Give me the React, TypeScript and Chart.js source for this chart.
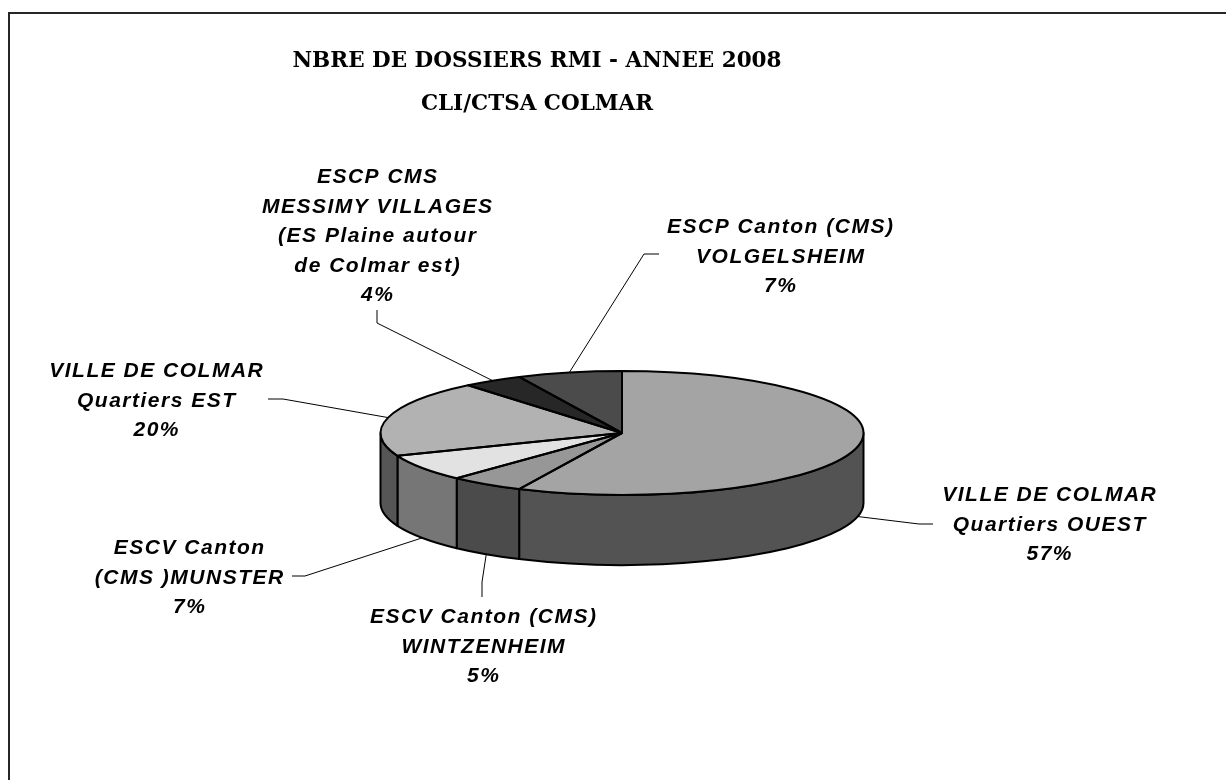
import React, { useEffect, useRef } from "react";
import { Chart, registerables } from "chart.js";

Chart.register(...registerables);

// ---------- data ----------
const titleLines = ["NBRE DE DOSSIERS RMI - ANNEE 2008", "CLI/CTSA COLMAR"];

const categories: string[][] = [
  ["VILLE DE COLMAR", "Quartiers OUEST"],
  ["ESCV Canton (CMS)", "WINTZENHEIM"],
  ["ESCV Canton", "(CMS )MUNSTER"],
  ["VILLE DE COLMAR", "Quartiers EST"],
  ["ESCP CMS", "MESSIMY VILLAGES", "(ES Plaine autour", "de Colmar est)"],
  ["ESCP Canton (CMS)", "VOLGELSHEIM"],
];

const values = [57, 5, 7, 20, 4, 7];

// ---------- styles ----------
const topColors = ["#a4a4a4", "#979797", "#e2e2e2", "#b2b2b2", "#272727", "#4b4b4b"];
const sideColors = ["#535353", "#4b4b4b", "#767676", "#565656", "#141414", "#262626"];

// ---------- layout ----------
const TILT = 0.2567;
const DEPTH = 70;
const LINE_H = 29.5;
const labelAnchors = [
  { x: 1049, y: 501 },
  { x: 483, y: 623 },
  { x: 189, y: 554 },
  { x: 156, y: 377 },
  { x: 377, y: 183 },
  { x: 780, y: 233 },
];
const leaderElbows: number[][][] = [
  [[933, 524], [919, 524]],
  [[482, 597], [482, 582]],
  [[292, 576], [305, 576]],
  [[268, 399], [283, 399]],
  [[377, 310], [377, 323]],
  [[659, 254], [644, 254]],
];

const pie3d = {
  id: "pie3d",
  beforeDraw(chart: any) {
    const ctx = chart.ctx as CanvasRenderingContext2D;
    ctx.save();
    ctx.strokeStyle = "#262626";
    ctx.lineWidth = 2;
    ctx.strokeRect(9, 13, 1400, 1000);
    ctx.restore();
  },
  beforeDatasetsDraw(chart: any) {
    const ctx = chart.ctx as CanvasRenderingContext2D;
    const arcs = chart.getDatasetMeta(0).data as any[];
    ctx.save();
    ctx.lineJoin = "round";
    arcs.forEach((arc, i) => {
      const { x, y, startAngle, endAngle, outerRadius } = arc;
      const rx = outerRadius;
      const ry = rx * TILT;
      const s = Math.max(startAngle, 0);
      const e = Math.min(endAngle, Math.PI);
      if (e <= s) return;
      ctx.beginPath();
      ctx.ellipse(x, y, rx, ry, 0, s, e, false);
      ctx.lineTo(x + rx * Math.cos(e), y + ry * Math.sin(e) + DEPTH);
      ctx.ellipse(x, y + DEPTH, rx, ry, 0, e, s, true);
      ctx.closePath();
      ctx.fillStyle = sideColors[i];
      ctx.fill();
      ctx.lineWidth = 2;
      ctx.strokeStyle = "#000";
      ctx.stroke();
    });
    ctx.restore();
    const a0 = arcs[0];
    ctx.save();
    ctx.translate(a0.x, a0.y);
    ctx.scale(1, TILT);
    ctx.translate(-a0.x, -a0.y);
  },
  afterDatasetsDraw(chart: any) {
    const ctx = chart.ctx as CanvasRenderingContext2D;
    ctx.restore();
    const arcs = chart.getDatasetMeta(0).data as any[];
    const total = values.reduce((a, b) => a + b, 0);

    // top outlines
    ctx.save();
    ctx.lineJoin = "round";
    ctx.lineWidth = 2;
    ctx.strokeStyle = "#000";
    arcs.forEach((arc) => {
      const { x, y, startAngle, endAngle, outerRadius } = arc;
      const rx = outerRadius;
      const ry = rx * TILT;
      ctx.beginPath();
      ctx.moveTo(x, y);
      ctx.ellipse(x, y, rx, ry, 0, startAngle, endAngle, false);
      ctx.closePath();
      ctx.stroke();
    });
    ctx.restore();

    // leader lines
    ctx.save();
    ctx.lineWidth = 1;
    ctx.strokeStyle = "#000";
    arcs.forEach((arc, i) => {
      const { x, y, startAngle, endAngle, outerRadius } = arc;
      const rx = outerRadius;
      const ry = rx * TILT;
      const mid = (startAngle + endAngle) / 2;
      const px = x + rx * Math.cos(mid);
      const py = y + ry * Math.sin(mid) + (Math.sin(mid) > 0 ? DEPTH : 0);
      const pts = leaderElbows[i];
      ctx.beginPath();
      ctx.moveTo(pts[0][0], pts[0][1]);
      for (let k = 1; k < pts.length; k++) ctx.lineTo(pts[k][0], pts[k][1]);
      ctx.lineTo(px, py);
      ctx.stroke();
    });
    ctx.restore();

    // labels
    ctx.save();
    ctx.fillStyle = "#000";
    ctx.textAlign = "center";
    ctx.textBaseline = "alphabetic";
    ctx.font = 'italic bold 21px "Liberation Sans", Arial, sans-serif';
    (ctx as any).letterSpacing = "1.5px";
    const labels = chart.data.labels as string[][];
    labels.forEach((lines, i) => {
      const pct = Math.round((values[i] * 100) / total) + "%";
      const all = [...lines, pct];
      const a = labelAnchors[i];
      all.forEach((t, k) => ctx.fillText(t, a.x + 0.75, a.y + k * LINE_H));
    });
    ctx.restore();

    // title
    ctx.save();
    ctx.fillStyle = "#000";
    ctx.textAlign = "center";
    ctx.textBaseline = "alphabetic";
    ctx.font = 'bold 21.5px "DejaVu Serif", "Liberation Serif", serif';
    ctx.fillText(titleLines[0], 537, 67);
    ctx.fillText(titleLines[1], 537, 110);
    ctx.restore();
  },
};

export default function App() {
  const ref = useRef<HTMLCanvasElement>(null);
  useEffect(() => {
    if (!ref.current) return;
    const chart = new Chart(ref.current, {
      type: "pie",
      data: {
        labels: categories,
        datasets: [
          {
            data: values,
            backgroundColor: topColors,
            borderWidth: 0,
            clip: false as any,
          },
        ],
      },
      options: {
        responsive: false,
        animation: false,
        events: [],
        radius: 241.5,
        layout: { padding: { left: 300, right: 282, top: 200, bottom: 114 } },
        plugins: {
          legend: { display: false },
          title: { display: false },
          tooltip: { enabled: false },
        },
      } as any,
      plugins: [pie3d],
    });
    return () => chart.destroy();
  }, []);
  return (
    <div style={{ position: "absolute", left: 0, top: 0, width: 1226, height: 780, background: "#fff" }}>
      <canvas ref={ref} width={1226} height={780} style={{ display: "block" }} />
    </div>
  );
}
